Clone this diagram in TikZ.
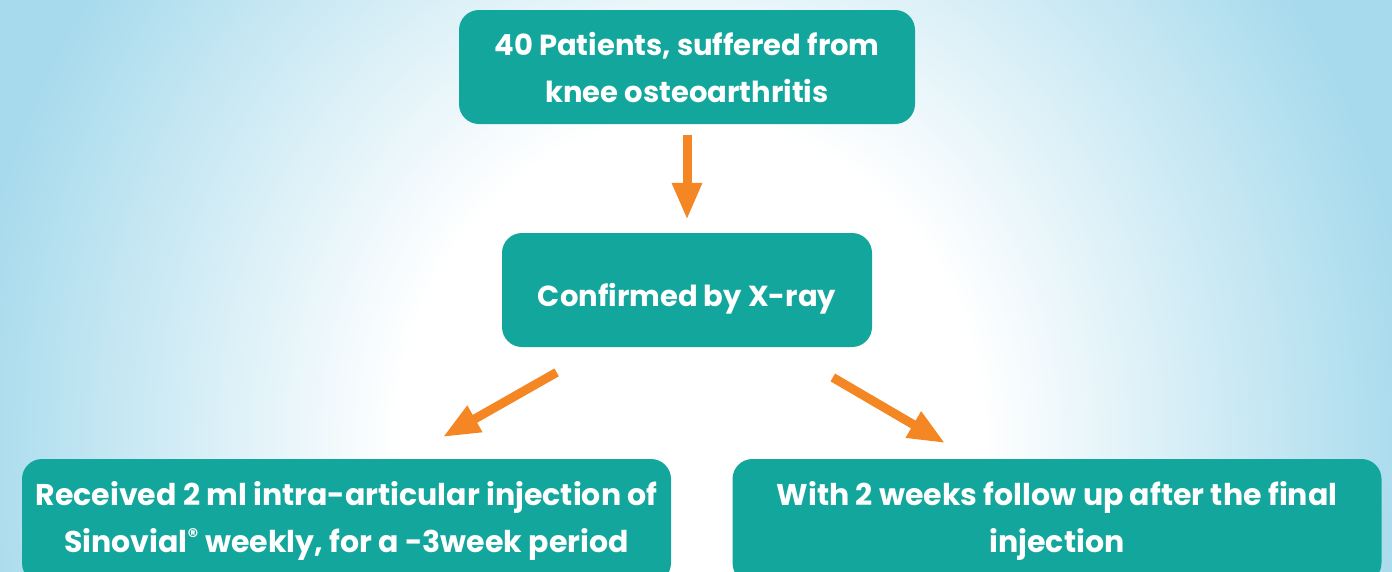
\documentclass[tikz,border=0pt]{standalone}
\usepackage{fontspec}
\setmainfont{Poppins}
\usetikzlibrary{arrows.meta,positioning}
\definecolor{boxteal}{RGB}{19,166,157}
\definecolor{arroworange}{RGB}{245,134,36}
\definecolor{glowblue}{RGB}{166,218,236}
\pgfdeclareradialshading{bgglow}{\pgfpoint{0bp}{0bp}}{color(0bp)=(white); color(10bp)=(white); color(25bp)=(glowblue); color(50bp)=(glowblue)}

\begin{document}
\begin{tikzpicture}[x=1pt,y=-1pt,
  flowbox/.style={rectangle,rounded corners=20pt,fill=boxteal,text=white,align=center,inner sep=0pt,
    font=\bfseries\fontsize{29}{47}\selectfont},
  flow/.style={draw=arroworange,line width=9pt,-{Triangle[width=28pt,length=37pt]}}]
\useasboundingbox (0,0) rectangle (1392,571);
\clip (0,0) rectangle (1392,571);
% background glow
\fill[glowblue] (0,0) rectangle (1392,571);
\shade[shading=bgglow] (690,440) ellipse [x radius=730pt, y radius=800pt];
\node[flowbox,minimum width=456pt,minimum height=114pt] (patients) at (687,67)
  {40 Patients, suffered from\\knee osteoarthritis};
\node[flowbox,minimum width=370pt,minimum height=114pt,text height=32pt,text depth=0pt] (xray) at (687,290)
  {Confirmed by X-ray};
\node[flowbox,minimum width=649pt,minimum height=124pt,font=\bfseries\fontsize{30}{47}\selectfont] (inject) at (346.5,521)
  {Received 2 ml intra-articular injection of\\Sinovial\textsuperscript{®} weekly, for a -3week period};
\node[flowbox,minimum width=649pt,minimum height=124pt,font=\bfseries\fontsize{30}{47}\selectfont] (followup) at (1057,521)
  {With 2 weeks follow up after the final\\injection};
\draw[flow,shorten <=11pt,shorten >=13pt] (patients) -- (xray);
\draw[flow,shorten <=51pt,shorten >=44pt] ([xshift=-86pt]xray.south) -- ([xshift=58pt]inject.north);
\draw[flow,shorten <=60pt,shorten >=31pt] ([xshift=94pt]xray.south) -- ([xshift=-85pt]followup.north);
\end{tikzpicture}
\end{document}
